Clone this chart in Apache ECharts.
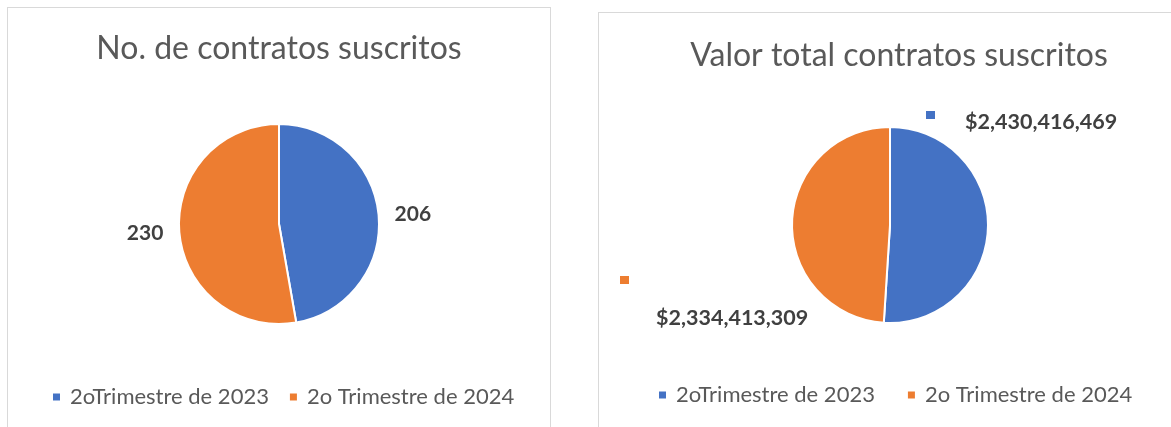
<!DOCTYPE html>
<html>
<head>
<meta charset="utf-8">
<script src="https://cdn.jsdelivr.net/npm/echarts@6/dist/echarts.min.js"></script>
<style>
  html, body { margin: 0; padding: 0; background: #fff; overflow: hidden; }
  body { width: 1171px; height: 427px; position: relative; }
  .panel { position: absolute; border: 1px solid #d9d9d9; background: #fff; }
  #left { left: 7px; top: 7px; width: 542px; height: 440px; }
  #right { left: 598px; top: 12px; width: 600px; height: 440px; }
</style>
</head>
<body>
<div id="left" class="panel"></div>
<div id="right" class="panel"></div>
<script>
// datos
const seriesNames = ['2oTrimestre de 2023', '2o Trimestre de 2024']
const contractCounts = [206, 230]
const contractValues = [2430416469, 2334413309]
const leftTitle = 'No. de contratos suscritos'
const rightTitle = 'Valor total contratos suscritos'

const COLORS = ['#4472c4', '#ed7d31']
const FONT = 'Lato, "Open Sans", sans-serif'
const TITLE_COLOR = '#595959'
const LABEL_COLOR = '#404040'

function money(v) {
  return '$' + v.toLocaleString('en-US')
}

function baseOption(title, titleTop, legendLeft, legendGap, legendTop) {
  return {
    color: COLORS,
    animation: false,
    textStyle: { fontFamily: FONT },
    title: {
      text: title,
      left: 'center',
      top: titleTop,
      textStyle: { fontFamily: FONT, fontSize: 32, fontWeight: 'normal', color: TITLE_COLOR },
    },
    legend: {
      data: seriesNames,
      left: legendLeft,
      top: legendTop,
      icon: 'rect',
      itemWidth: 9,
      itemHeight: 9,
      itemGap: legendGap,
      textStyle: { fontFamily: FONT, fontSize: 22, color: TITLE_COLOR, padding: [0, 0, 0, 4] },
    },
  }
}

// grafico izquierdo: numero de contratos
const leftChart = echarts.init(document.getElementById('left'), null, { renderer: 'canvas' })
leftChart.setOption({
  ...baseOption(leftTitle, 20, 38, 19, 373),
  series: [
    {
      type: 'pie',
      center: [271, 216],
      radius: 100,
      startAngle: 90,
      itemStyle: { borderColor: '#fff', borderWidth: 2 },
      label: {
        show: true,
        position: 'outside',
        formatter: '{c}',
        fontFamily: FONT,
        fontSize: 21,
        fontWeight: 'bold',
        color: LABEL_COLOR,
        overflow: 'none',
      },
      labelLine: { show: false, length: 8, length2: 3 },
      emphasis: { disabled: true },
      data: seriesNames.map((n, i) => ({ name: n, value: contractCounts[i] })),
    },
  ],
})

// grafico derecho: valor total (etiquetas con clave de leyenda, movidas a mano)
const rightCenter = [291, 212]
const rightLabelPos = [
  { dx: 36, dy: -114 },
  { dx: -270, dy: 51 },
]
const rightChart = echarts.init(document.getElementById('right'), null, { renderer: 'canvas' })
rightChart.setOption({
  ...baseOption(rightTitle, 22, 53, 31, 366),
  series: [
    {
      type: 'pie',
      center: rightCenter,
      radius: 98,
      startAngle: 90,
      itemStyle: { borderColor: '#fff', borderWidth: 2 },
      label: {
        show: true,
        position: 'outside',
        fontFamily: FONT,
        fontSize: 21,
        fontWeight: 'bold',
        color: LABEL_COLOR,
        overflow: 'none',
        width: 300,
      },
      labelLine: { show: false },
      labelLayout: (p) => ({
        x: rightCenter[0] + rightLabelPos[p.dataIndex].dx,
        y: rightCenter[1] + rightLabelPos[p.dataIndex].dy,
        align: 'left',
        verticalAlign: 'top',
      }),
      emphasis: { disabled: true },
      data: seriesNames.map((n, i) => ({
        name: n,
        value: contractValues[i],
        label: {
          formatter: i === 0
            ? '{k|}{g| }{v|' + money(contractValues[i]) + '}'
            : '{k|}\n{g| }{v|' + money(contractValues[i]) + '}',
          rich: {
            k: {
              width: 9,
              height: 8,
              backgroundColor: COLORS[i],
              verticalAlign: 'top',
              lineHeight: i === 0 ? 22 : 31,
            },
            g: { width: i === 0 ? 30 : 36 },
            v: {
              fontFamily: FONT,
              fontSize: 21.5,
              fontWeight: 'bold',
              color: LABEL_COLOR,
              lineHeight: 22,
            },
          },
        },
      })),
    },
  ],
})
</script>
</body>
</html>
